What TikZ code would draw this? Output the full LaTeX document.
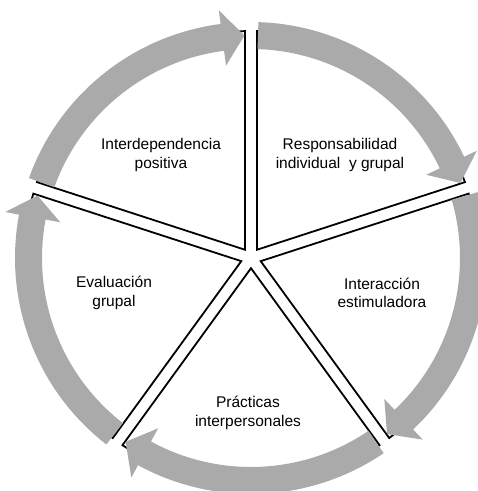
\documentclass[tikz,border=0pt]{standalone}
\usepackage{fontspec}
\setmainfont{Liberation Sans}
\usetikzlibrary{calc}
\definecolor{bandgray}{RGB}{170,170,170}
\begin{document}
\begin{tikzpicture}[x=1pt,y=1pt,
  sectorline/.style={draw=black,line width=1.8pt,fill=white,line join=miter},
  band/.style={fill=bandgray},
  lab/.style={align=center,font=\fontsize{15.5}{18.5}\selectfont,inner sep=0pt}]
\useasboundingbox[fill=white] (-251,-233) rectangle (227,258);
% sectors
\foreach \A/\B/\n in {162/90/s1,90/18/s2,18/-54/s3,-54/-126/s4,-126/-198/s5}{
  \pgfmathsetmacro\M{(\A+\B)/2}
  \coordinate (\n v) at (\M:10.2);
  \draw[sectorline] (\n v) -- (\A-1.52:227)
     arc[start angle=\A-1.52, end angle=\B+1.52, radius=227] -- cycle;
}
% circular arrows
\foreach \A/\B in {162/90,90/18,18/-54,-54/-126,-126/-198}{
  \fill[band] (\A-1.8:209) arc[start angle=\A-1.8, end angle=\B+7.4, radius=209]
    -- (\B+7.4:194) -- (\B+1.7:222.5) -- (\B+7.4:250) -- (\B+7.4:236)
    arc[start angle=\B+7.4, end angle=\A-1.8, radius=236] -- cycle;
}
\node[lab] (t1) at (-90,103) {Interdependencia\\positiva};
\node[lab] (t2) at (89,103) {Responsabilidad\\individual~ y grupal};
\node[lab] (t3) at (131,-35) {Interacción\\estimuladora};
\node[lab] (t4) at (-3,-155) {Prácticas\\interpersonales};
\node[lab] (t5) at (-137,-35) {Evaluación\\grupal};
\end{tikzpicture}
\end{document}
